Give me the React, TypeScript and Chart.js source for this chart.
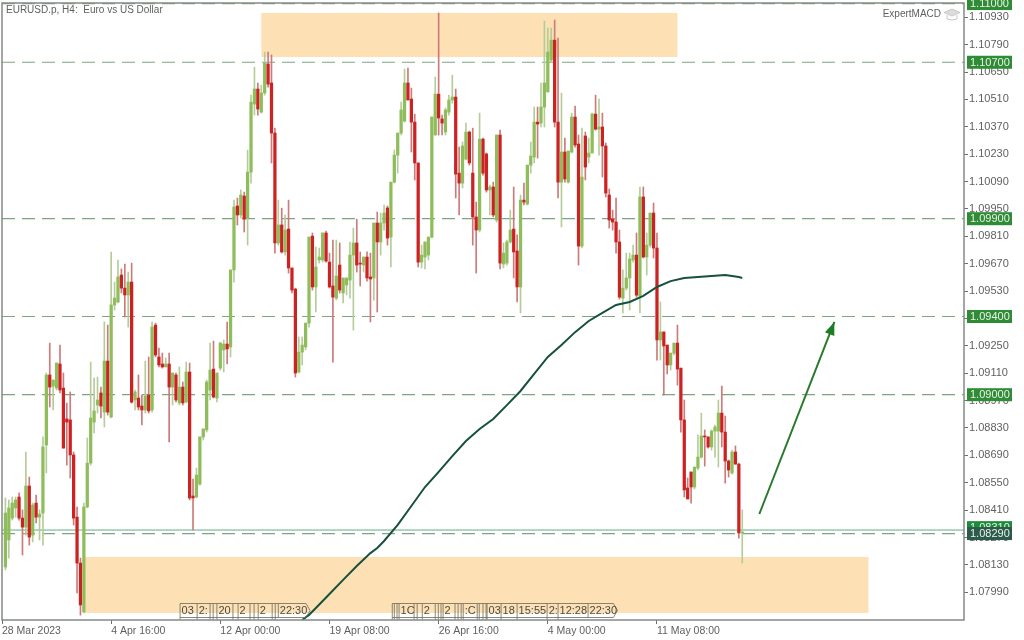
import React, { useEffect, useRef } from "react";
import { Chart, registerables } from "chart.js";

Chart.register(...registerables);

const BAR_COUNT = 283;
const TIME_STEP = 32;
const TIME_LABELS = ["28 Mar 2023", "4 Apr 16:00", "12 Apr 00:00", "19 Apr 08:00", "26 Apr 16:00", "4 May 00:00", "11 May 08:00"];
const Y_TICKS = [1.1093, 1.1079, 1.1065, 1.1051, 1.1037, 1.1023, 1.1009, 1.0995, 1.0981, 1.0967, 1.0953, 1.0939, 1.0925, 1.0911, 1.0897, 1.0883, 1.0869, 1.0855, 1.0841, 1.0827, 1.0813, 1.0799];
const LEVELS = [1.11, 1.107, 1.099, 1.094, 1.09, 1.0829];
const BID = 1.08308;
const BID_LABEL = 1.0831;

const p = (s: string) => s.split(",").map((v) => Number("1." + v.trim()));

const OPENS = p(`08119,08257,08369,08421,08477,08369,08323,08533,08282,08446,
08374,08395,08743,09101,09044,09034,09157,09034,08876,08871,
08692,08374,08139,07889,08426,08650,08860,08947,09009,08911,
09172,08886,09459,09474,09612,09545,09510,09576,08973,08983,
08942,08922,08998,08922,09356,09193,09157,09142,09157,09039,
09101,08958,09039,08963,09116,08482,08477,08543,08784,08820,
09024,09131,08983,09136,09229,09259,09244,09638,09965,09919,
10016,09903,10138,10486,10563,10445,10543,10691,10594,10338,
09776,09868,09730,09847,09648,09540,09116,09218,09244,09366,
09811,09551,09689,09689,09827,09678,09556,09494,09663,09520,
09561,09586,09714,09776,09673,09663,09704,09602,09597,09878,
09781,09878,09955,09806,10087,10225,10338,10399,10594,10512,
10394,10185,09678,09704,09714,09806,10328,10537,10410,10343,
10445,10507,10522,10133,10082,10205,10343,10133,09909,09842,
10307,10231,10047,10062,09893,10328,09668,09673,09781,09847,
09735,09551,09995,09975,10174,10215,10394,10389,10471,10548,
10711,10813,10394,10087,10241,10087,10241,10420,10282,09760,
10323,10215,10236,10435,10358,10369,10272,10021,09898,09883,
09781,09494,09545,09597,09689,09714,09504,10011,09704,09765,
09929,09750,09280,09321,09254,09152,09213,09264,09136,08871,
08523,08605,08528,08625,08681,08789,08784,08733,08814,08814,
08906,08809,08661,08600,08707,08645,08293`);

const HIGHS = p(`08472,08462,08477,08477,08498,08411,08707,08579,08446,08487,
08411,08784,09111,09264,09075,09162,09254,09111,08957,09014,
08707,08426,08165,08446,08779,09167,09085,09090,09039,09372,
09356,09729,09576,09689,09643,09668,09627,09673,09024,09101,
08998,09172,09193,09372,09366,09239,09213,09188,09213,09111,
09111,09142,09065,09167,09162,08569,08625,08784,08825,09075,
09264,09274,09111,09269,09280,09372,09638,09995,10005,10047,
10036,10251,10532,10675,10594,10583,10752,10752,10737,10363,
09995,09954,09919,09995,09648,09545,09295,09295,09366,09806,
09827,09755,09750,09827,09837,09724,09791,09791,09776,09597,
09597,09781,09852,09898,09730,09704,09730,09724,09878,09934,
09929,09970,09965,10087,10251,10338,10496,10665,10670,10568,
10435,10185,09765,09781,09806,10420,10624,10952,10430,10466,
10532,10634,10563,10266,10292,10389,10348,10363,09985,10440,
10312,10236,10072,10087,10328,10353,09776,09791,09944,10062,
09817,10021,10082,10174,10292,10471,10471,10594,10911,10875,
10875,10916,10824,10542,10312,10246,10440,10476,10328,10363,
10343,10312,10440,10532,10512,10440,10287,10052,09944,10006,
09842,09638,09724,09724,09765,09827,10062,10062,09827,09929,
09980,09827,09474,09321,09254,09213,09264,09356,09136,08973,
08574,08605,08630,08794,08906,08820,08784,08820,08845,08973,
09044,08891,08666,08717,08738,08651,08411`);

const LOWS = p(`08104,08165,08359,08374,08359,08180,08282,08231,08247,08344,
08257,08231,08600,08937,08922,09024,09009,08727,08640,08574,
08334,07986,07873,07884,08421,08640,08804,08906,08881,08835,
08896,08881,09433,09469,09520,09397,09346,08957,08922,08922,
08845,08906,08906,08911,09193,09142,09136,09142,08758,08947,
08963,08947,08947,08958,08462,08308,08472,08538,08768,08809,
08973,08983,08963,09126,09116,09157,09193,09576,09868,09903,
09832,09765,10082,10430,10430,10440,10532,10573,10185,09724,
09765,09724,09714,09622,09520,09090,09111,09152,09229,09346,
09535,09423,09673,09678,09678,09545,09167,09484,09520,09469,
09510,09494,09331,09627,09556,09627,09581,09372,09484,09423,
09714,09842,09765,09653,10082,10133,10328,10394,10507,10241,
10098,09653,09648,09643,09689,09801,10328,10328,10328,10328,
10430,10491,10006,09919,10057,10200,10174,09765,09622,09832,
10123,10036,09919,09909,09883,09643,09648,09663,09776,09597,
09474,09418,09970,09970,10133,10185,10210,10369,10369,10548,
10701,10369,10006,09858,10087,10082,10236,10266,09663,09750,
10098,10185,10236,10353,10225,10113,10011,09852,09842,09724,
09489,09418,09535,09433,09678,09499,09418,09699,09612,09755,
09699,09177,09177,08998,09106,09126,09203,09049,08809,08477,
08467,08446,08518,08615,08676,08635,08727,08717,08681,08630,
08733,08548,08579,08594,08645,08267,08139`);

const CLOSES = p(`08395,08421,08446,08462,08369,08323,08533,08272,08436,08374,
08390,08733,09101,09039,09075,09162,09024,08727,08860,08692,
08369,08139,07925,08426,08650,08881,08917,08973,08942,09172,
08911,09459,09494,09602,09545,09510,09576,08962,09014,08937,
08922,08993,08917,09346,09203,09152,09142,09157,09039,09111,
08973,09039,08958,09116,08472,08472,08589,08784,08825,09065,
09126,08988,09111,09264,09259,09234,09638,09960,09919,10021,
09898,10138,10496,10563,10461,10543,10696,10588,10338,09776,
09868,09730,09842,09648,09535,09111,09218,09254,09366,09806,
09551,09653,09704,09827,09683,09551,09499,09607,09535,09597,
09597,09714,09776,09663,09668,09704,09597,09592,09878,09781,
09878,09929,09801,10087,10225,10338,10456,10594,10507,10394,
10185,09678,09714,09781,09806,10420,10537,10415,10389,10456,
10507,10522,10128,10082,10272,10343,10185,09909,09842,10307,
10133,10047,10062,09919,10328,09673,09724,09781,09842,09730,
09551,09995,09985,10174,10220,10394,10384,10471,10594,10752,
10813,10394,10087,10241,10103,10246,10420,10277,09760,10113,
10164,10236,10435,10358,10369,10272,10031,09893,09883,09781,
09499,09545,09597,09694,09714,09509,10011,09704,09765,09929,
09750,09280,09321,09249,09152,09213,09264,09131,08871,08513,
08467,08528,08630,08681,08789,08784,08733,08814,08835,08906,
08809,08661,08615,08707,08645,08293,08298`);

const MA_INDEX = [88, 90, 92, 96, 100, 104, 108, 110, 112, 116, 120, 124, 128, 132, 136, 140, 144, 148, 152, 156, 160, 164, 168, 172, 176, 180, 184, 188, 192, 196, 200, 204, 208, 212, 216, 217];
const MA_VALUES = [1.07848, 1.07874, 1.07909, 1.07981, 1.08053, 1.08124, 1.0819, 1.08216, 1.08252, 1.08334, 1.08431, 1.08528, 1.08605, 1.08686, 1.08763, 1.08825, 1.08876, 1.08947, 1.09019, 1.09106, 1.09193, 1.09254, 1.0932, 1.09377, 1.09418, 1.09459, 1.09474, 1.09505, 1.09551, 1.09581, 1.09597, 1.09602, 1.09607, 1.09612, 1.09602, 1.09597];

const ARROW_INDEX = [222, 244];
const ARROW_VALUES = [1.0839, 1.09372];

const ZONE_STARTS = [76, 23.75];
const ZONE_ENDS = [198, 254];
const ZONE_TOPS = [1.10952, 1.0817];
const ZONE_BOTTOMS = [1.10727, 1.07884];

const FLAG_INDEX = [52.2, 57.2, 61, 61.9, 63, 67.7, 69.2, 72.7, 73.9, 75.1, 79.2, 80.1, 81, 114.4, 115, 115.8, 116.4, 120.8, 121.7, 123.2, 127, 127.9, 128.7, 129.3, 132.8, 133.7, 134.6, 135.2, 139.3, 139.9, 141, 141.9, 142.2, 146.3, 151, 159.8, 163, 171.8];
const FLAG_TEXT = ["03", "2:", "", "", "20", "", "2", "", "", "2", "", "", "22:30", "", "", "", "1C", "", "", "2", "", "", "", "2", "", "", "", ":C", "", "", "", "", "03", "18", "15:55", "2:", "12:28", "22:30"];
const FLAG_ENDS = [90.3, 180.4];
const LAST_OF_GROUP = [12, 37];

const N = OPENS.length;
const labels = Array.from({ length: BAR_COUNT }, (_, i) => (i % TIME_STEP === 0 && TIME_LABELS[i / TIME_STEP]) || "");

const at = (values: (number | null)[]) => Array.from({ length: BAR_COUNT }, (_, i) => (i >= 1 && i <= N ? values[i - 1] : null));
const sparse = (index: number[], values: number[]) => {
  const out: (number | null)[] = new Array(BAR_COUNT).fill(null);
  index.forEach((ix, k) => (out[ix] = values[k]));
  return out;
};

const FONT = "11px 'Liberation Sans'";
const SMALL = "10px 'Liberation Sans'";
const TEXT = "#5f5f5f";

const bars = {
  id: "marketOverlay",
  beforeDatasetsDraw(chart: any) {
    const { ctx, scales: { x, y } } = chart;
    ctx.save();
    ctx.fillStyle = "#fde1b5";
    ZONE_STARTS.forEach((s, i) => {
      const l = x.getPixelForValue(s), r = x.getPixelForValue(ZONE_ENDS[i]);
      const t = y.getPixelForValue(ZONE_TOPS[i]), b = y.getPixelForValue(ZONE_BOTTOMS[i]);
      ctx.fillRect(l, t, r - l, b - t);
    });
    ctx.restore();
  },
  afterDatasetsDraw(chart: any) {
    const { ctx, chartArea: a, scales: { x, y } } = chart;
    ctx.save();
    // frame
    ctx.strokeStyle = "#858a85";
    ctx.lineWidth = 1.5;
    ctx.strokeRect(a.left, a.top, a.right - a.left, a.bottom - a.top);

    // arrow head
    const x0 = x.getPixelForValue(ARROW_INDEX[0]), y0 = y.getPixelForValue(ARROW_VALUES[0]);
    const x1 = x.getPixelForValue(ARROW_INDEX[1]), y1 = y.getPixelForValue(ARROW_VALUES[1]);
    const ang = Math.atan2(y1 - y0, x1 - x0);
    const len = 13, half = 5;
    const bx = x1 - Math.cos(ang) * len, by = y1 - Math.sin(ang) * len;
    ctx.fillStyle = "#1d7d24";
    ctx.beginPath();
    ctx.moveTo(x1, y1);
    ctx.lineTo(bx + Math.sin(ang) * half, by - Math.cos(ang) * half);
    ctx.lineTo(bx - Math.sin(ang) * half, by + Math.cos(ang) * half);
    ctx.closePath();
    ctx.fill();

    // title & watermark
    ctx.font = SMALL;
    ctx.fillStyle = TEXT;
    ctx.textBaseline = "middle";
    ctx.textAlign = "left";
    ctx.fillText("EURUSD.p, H4:  Euro vs US Dollar", 6, 10);
    ctx.textAlign = "right";
    ctx.fillText("ExpertMACD", 941, 14);
    ctx.strokeStyle = "#c8c8c8";
    ctx.fillStyle = "#dcdcdc";
    ctx.lineWidth = 1;
    ctx.beginPath();
    ctx.moveTo(952, 9); ctx.lineTo(960, 12.5); ctx.lineTo(952, 16); ctx.lineTo(944, 12.5); ctx.closePath();
    ctx.fill(); ctx.stroke();
    ctx.beginPath();
    ctx.moveTo(947, 15); ctx.lineTo(947, 19); ctx.lineTo(952, 20); ctx.lineTo(957, 19); ctx.lineTo(957, 15);
    ctx.stroke();

    // flags
    ctx.font = FONT;
    ctx.strokeStyle = "#6b6a5c";
    ctx.lineWidth = 0.8;
    const top = 603.5, bot = 617.5;
    FLAG_INDEX.forEach((ix, i) => {
      const l = x.getPixelForValue(ix);
      const isLast = LAST_OF_GROUP.includes(i);
      const endIx = isLast ? FLAG_ENDS[LAST_OF_GROUP.indexOf(i)] : FLAG_INDEX[i + 1];
      const r = x.getPixelForValue(endIx);
      ctx.beginPath();
      if (isLast) {
        ctx.moveTo(l, bot); ctx.lineTo(l, top); ctx.lineTo(r - 4, top); ctx.lineTo(r, (top + bot) / 2); ctx.lineTo(r - 4, bot); ctx.lineTo(l, bot);
      } else {
        ctx.moveTo(l, bot + 2); ctx.lineTo(l, top); ctx.lineTo(r, top);
        ctx.moveTo(l, bot); ctx.lineTo(r, bot);
      }
      ctx.stroke();
      if (FLAG_TEXT[i]) {
        ctx.save();
        ctx.beginPath();
        ctx.rect(l, top, r - l, bot - top);
        ctx.clip();
        ctx.fillStyle = "#4a4a44";
        ctx.textAlign = "left";
        ctx.fillText(FLAG_TEXT[i], l + 1.5, 611);
        ctx.restore();
      }
    });

    // price boxes
    const box = (price: number, fill: string, yOff = 0) => {
      const py = y.getPixelForValue(price) + yOff;
      ctx.fillStyle = fill;
      ctx.fillRect(967, py - 6.5, 45, 13);
      ctx.fillStyle = "#e9f3e6";
      ctx.textAlign = "left";
      ctx.font = FONT;
      ctx.fillText(price.toFixed(5), 970, py + 0.5);
    };
    box(BID_LABEL, "#1c8c3c", -2);
    LEVELS.forEach((lv) => box(lv, lv === 1.0829 ? "#2c5a4c" : "#2f8b35"));
    ctx.restore();
  },
};

export default function App() {
  const ref = useRef<HTMLCanvasElement>(null);
  useEffect(() => {
    const isUp = OPENS.map((o, i) => CLOSES[i] >= o);
    const levelSets = LEVELS.map((lv) => ({
      type: "line",
      data: new Array(BAR_COUNT).fill(lv),
      borderColor: "#7ea581",
      borderWidth: 1.2,
      borderDash: [13, 7],
      pointRadius: 0,
      clip: false,
      order: 6,
    }));
    const chart = new Chart(ref.current!, {
      type: "bar",
      data: {
        labels,
        datasets: [
          ...levelSets,
          {
            type: "line",
            data: new Array(BAR_COUNT).fill(BID),
            borderColor: "#5fa88c",
            borderWidth: 1,
            pointRadius: 0,
            order: 6,
          },
          {
            type: "bar",
            grouped: false,
            barThickness: 1,
            data: at(LOWS.map((l, i) => [l, HIGHS[i]]) as any),
            backgroundColor: at(isUp.map((u) => (u ? "#b4cd98" : "#cc7a7a")) as any),
            order: 5,
          },
          {
            type: "bar",
            grouped: false,
            barThickness: 2.6,
            data: at(OPENS.map((o, i) => [o, CLOSES[i]]) as any),
            backgroundColor: at(isUp.map((u) => (u ? "#8fbd5c" : "#cc2222")) as any),
            order: 4,
          },
          {
            type: "line",
            data: sparse(MA_INDEX, MA_VALUES),
            spanGaps: true,
            borderColor: "#17503f",
            borderWidth: 2,
            pointRadius: 0,
            order: 3,
          },
          {
            type: "line",
            data: sparse(ARROW_INDEX, ARROW_VALUES),
            spanGaps: true,
            borderColor: "#2a7a2c",
            borderWidth: 2,
            pointRadius: 0,
            order: 2,
          },
        ] as any,
      },
      options: {
        responsive: false,
        animation: false,
        layout: { padding: { left: 2, right: 0, top: 3, bottom: 0 } },
        plugins: { legend: { display: false }, tooltip: { enabled: false } },
        scales: {
          x: {
            offset: false,
            afterFit: (s: any) => { s.height = 20; s.paddingLeft = 0; s.paddingRight = 0; },
            afterBuildTicks: (s: any) => {
              s.ticks = s.ticks.filter((t: any) => t.value % TIME_STEP === 0 && t.value / TIME_STEP < TIME_LABELS.length);
            },
            grid: { drawOnChartArea: false, tickLength: 4, color: "#6e6e6e", offset: false },
            border: { display: false },
            ticks: { autoSkip: false, maxRotation: 0, align: "start", padding: 1, color: TEXT, font: { family: "'Liberation Sans'", size: 10.5 } },
          },
          y: {
            position: "right",
            min: 1.07848,
            max: 1.11003,
            afterFit: (s: any) => { s.width = 60; s.paddingTop = 0; s.paddingBottom = 0; },
            afterBuildTicks: (s: any) => { s.ticks = Y_TICKS.map((value) => ({ value })); },
            grid: { drawOnChartArea: false, tickLength: 4, color: "#6e6e6e" },
            border: { display: false },
            ticks: { autoSkip: false, padding: 1, color: TEXT, font: { family: "'Liberation Sans'", size: 11 }, callback: (v: any) => Number(v).toFixed(5) },
          },
        },
      } as any,
      plugins: [bars],
    } as any);
    return () => chart.destroy();
  }, []);
  return <canvas ref={ref} width={1024} height={640} style={{ position: "fixed", left: 0, top: 0, width: 1024, height: 640, background: "#fff" }} />;
}
